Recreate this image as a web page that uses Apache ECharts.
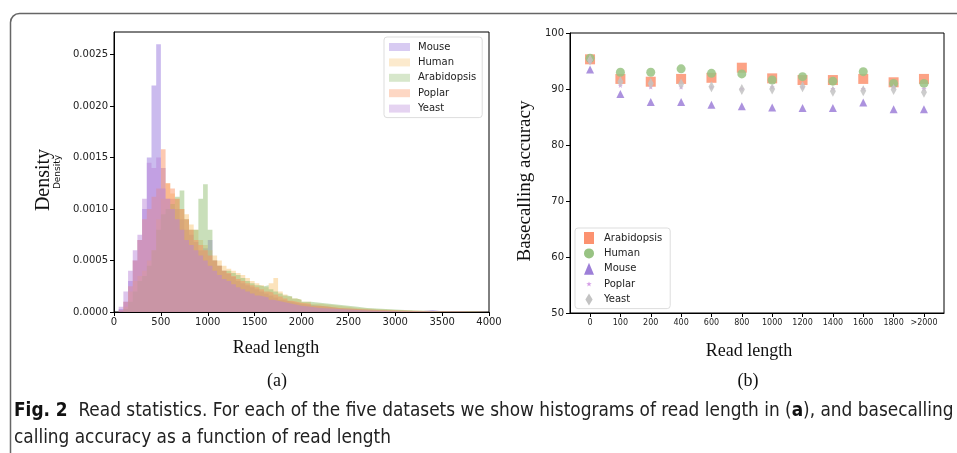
<!DOCTYPE html>
<html>
<head>
<meta charset="utf-8">
<script src="https://cdn.jsdelivr.net/npm/echarts@6/dist/echarts.min.js"></script>
<style>
  html, body { margin: 0; padding: 0; background: #fff; }
  #chart { width: 957px; height: 453px; }
</style>
</head>
<body>
<div id="chart"></div>
<script>
// histogram bins (start of each bin), last edge closes the step
const binStarts = [0, 50, 100, 150, 200, 250, 300, 350, 400, 450, 500, 550, 600, 650, 700, 750, 800, 850, 900, 950,
  1000, 1050, 1100, 1150, 1200, 1250, 1300, 1350, 1400, 1450, 1500, 1550, 1600, 1650, 1700, 1750, 1800, 1850, 1900, 1950,
  2000, 2100, 2200, 2300, 2400, 2500, 2600, 2700, 2800, 2900, 3000, 3100, 3200, 3300, 3400, 3500, 3600, 3700, 3800, 3900];
const lastEdge = 4000;

const mouseHist = [0, 0.00003, 0.0001, 0.0003, 0.0005, 0.0007, 0.0010, 0.0015, 0.0022, 0.0026, 0.0014, 0.0011, 0.0011, 0.0010, 0.0009, 0.0008, 0.00075, 0.00068, 0.0006, 0.00062,
  0.0007, 0.0005, 0.00045, 0.0004, 0.00037, 0.00034, 0.0003, 0.00028, 0.00026, 0.00024, 0.00022, 0.0002, 0.00018, 0.00016, 0.00014, 0.00012, 0.00011, 0.0001, 0.00009, 0.00008,
  0.00007, 0.00006, 0.00005, 0.00004, 0.000035, 0.00003, 0.000025, 0.00002, 0.00002, 0.000015, 0.000012, 0.00001, 0.00001, 0.00002, 0.000008, 0.000005, 0.000004, 0.000003, 0.000002, 0];
const humanHist = [0, 0, 0.00005, 0.0002, 0.0003, 0.00035, 0.0004, 0.0005, 0.0006, 0.0009, 0.0011, 0.00125, 0.00115, 0.0011, 0.001, 0.00095, 0.00085, 0.0008, 0.0007, 0.00065,
  0.0006, 0.00055, 0.0005, 0.00045, 0.00042, 0.0004, 0.00038, 0.00036, 0.00033, 0.0003, 0.00028, 0.00026, 0.00024, 0.00028, 0.00033, 0.0002, 0.00017, 0.00015, 0.00013, 0.00012,
  0.0001, 0.00008, 0.00007, 0.00006, 0.00005, 0.00004, 0.000035, 0.00003, 0.000025, 0.00002, 0.000018, 0.000015, 0.000012, 0.00001, 0.000008, 0.000006, 0.000005, 0.000004, 0.000003, 0];
const arabidopsisHist = [0, 0, 0.00003, 0.0001, 0.0002, 0.0003, 0.00035, 0.00045, 0.0006, 0.0008, 0.00095, 0.001, 0.00105, 0.00112, 0.00118, 0.0009, 0.0008, 0.0008, 0.0011, 0.00124,
  0.0008, 0.0005, 0.00045, 0.0004, 0.0004, 0.00038, 0.00036, 0.00033, 0.0003, 0.00028, 0.00026, 0.00025, 0.00026, 0.00022, 0.0002, 0.00018, 0.00016, 0.00015, 0.00013, 0.00012,
  0.0001, 0.00009, 0.00008, 0.00007, 0.00006, 0.00005, 0.00004, 0.000035, 0.00003, 0.000025, 0.00002, 0.000015, 0.000012, 0.00001, 0.000008, 0.000006, 0.000005, 0.000004, 0.000003, 0];
const poplarHist = [0, 0.00002, 0.0001, 0.00025, 0.0005, 0.0007, 0.0009, 0.001, 0.00112, 0.0012, 0.00158, 0.00125, 0.0012, 0.0011, 0.001, 0.0009, 0.0008, 0.0007, 0.00065, 0.0006,
  0.00055, 0.0005, 0.00045, 0.0004, 0.00038, 0.00035, 0.00032, 0.0003, 0.00028, 0.00026, 0.00024, 0.00022, 0.0002, 0.00019, 0.00017, 0.00015, 0.00013, 0.00011, 0.0001, 0.00009,
  0.00008, 0.00006, 0.00005, 0.00004, 0.000035, 0.00003, 0.000025, 0.00002, 0.000018, 0.000015, 0.000012, 0.00001, 0.000008, 0.000007, 0.000006, 0.000005, 0.000004, 0.000003, 0.000002, 0];
const yeastHist = [0, 0.00005, 0.0002, 0.0004, 0.0006, 0.00075, 0.0011, 0.00145, 0.0014, 0.0015, 0.0012, 0.0011, 0.001, 0.0009, 0.0008, 0.0007, 0.00065, 0.0006, 0.00055, 0.0005,
  0.00045, 0.0004, 0.00036, 0.00032, 0.0003, 0.00027, 0.00024, 0.00022, 0.0002, 0.00018, 0.00016, 0.00015, 0.00014, 0.00012, 0.00011, 0.0001, 0.00009, 0.00008, 0.00007, 0.00006,
  0.00005, 0.00004, 0.000035, 0.00003, 0.000025, 0.00002, 0.000015, 0.000012, 0.00001, 0.000008, 0.000006, 0.000005, 0.000004, 0.000004, 0.000003, 0.000002, 0.000002, 0.000001, 0.000001, 0];

const densityTicks = [0, 0.0005, 0.001, 0.0015, 0.002, 0.0025];

// accuracy by read length bucket
const lengthBuckets = ['0', '100', '200', '400', '600', '800', '1000', '1200', '1400', '1600', '1800', '>2000'];
const arabidopsisAcc = [95.3, 91.8, 91.3, 91.8, 92.0, 93.8, 91.9, 91.6, 91.6, 91.8, 91.2, 91.8];
const humanAcc = [95.5, 93.0, 93.0, 93.6, 92.8, 92.7, 91.6, 92.2, 91.4, 93.1, 91.0, 91.0];
const mouseAcc = [93.5, 89.1, 87.7, 87.7, 87.2, 86.9, 86.7, 86.6, 86.6, 87.6, 86.4, 86.4];
const poplarAcc = [94.9, 90.6, 90.3, 90.3, 90.3, 90.0, 90.3, 90.3, 90.0, 90.0, 90.3, 90.0];
const yeastAcc = [95.2, 91.3, 91.0, 90.9, 90.4, 89.9, 90.0, 90.4, 89.6, 89.7, 89.9, 89.4];

const histColors = { Mouse: '#9370db', Human: '#f8c574', Arabidopsis: '#8fbc6f', Poplar: '#fa8f5c', Yeast: '#b784d8' };
const histAlpha = 0.48;

function rgba(hex, a) {
  const n = parseInt(hex.slice(1), 16);
  return 'rgba(' + (n >> 16) + ',' + ((n >> 8) & 255) + ',' + (n & 255) + ',' + a + ')';
}

function stepData(vals) {
  const pts = binStarts.map((b, i) => [b, vals[i]]);
  pts.push([lastEdge, 0]);
  return pts;
}

function histSeries(name, vals) {
  return {
    name: name,
    type: 'line',
    step: 'end',
    xAxisIndex: 0,
    yAxisIndex: 0,
    symbol: 'none',
    silent: true,
    color: histColors[name],
    lineStyle: { width: 0 },
    areaStyle: { color: histColors[name], opacity: histAlpha },
    data: stepData(vals)
  };
}

function accSeries(name, vals, symbol, size, color) {
  return {
    name: name,
    type: 'scatter',
    xAxisIndex: 1,
    yAxisIndex: 1,
    symbol: symbol,
    symbolSize: size,
    itemStyle: { color: color, opacity: 0.85 },
    data: vals.map((v, i) => [i, v])
  };
}

const starPath = 'path://M0,0Z M100,100Z M50,22 L57,41 L77,41 L61,53 L67,73 L50,61 L33,73 L39,53 L23,41 L43,41 Z';
const thinDiamond = 'path://M50,0 L80,50 L50,100 L20,50 Z';

const accColors = { Arabidopsis: '#fc9270', Human: '#98c383', Mouse: '#9d7fd8', Poplar: '#d49ce6', Yeast: '#c3c3c3' };

const sans = '"DejaVu Sans", sans-serif';
const serif = '"Liberation Serif", "DejaVu Serif", serif';
const captionFont = '"Liberation Sans Narrow", "DejaVu Sans Condensed", sans-serif';

const axisLineStyle = { onZero: false, lineStyle: { color: '#000' } };

const chart = echarts.init(document.getElementById('chart'), null, { renderer: 'canvas' });

chart.setOption({
  animation: false,
  backgroundColor: '#fff',
  textStyle: { fontFamily: sans },
  grid: [
    { left: 114, top: 32, width: 375, height: 280, show: true, borderColor: '#000', borderWidth: 1, backgroundColor: 'transparent' },
    { left: 570, top: 33, width: 374, height: 280, show: true, borderColor: '#000', borderWidth: 1, backgroundColor: 'transparent' }
  ],
  xAxis: [
    {
      type: 'value', gridIndex: 0, min: 0, max: 4000, interval: 500,
      axisLine: axisLineStyle,
      axisTick: { length: 4, lineStyle: { color: '#000' } },
      axisLabel: { fontSize: 10, color: '#222', margin: 5, fontFamily: sans, formatter: v => String(v) },
      splitLine: { show: false }
    },
    {
      type: 'value', gridIndex: 1, min: -0.66, max: 11.66,
      axisLine: axisLineStyle,
      axisTick: { length: 4, lineStyle: { color: '#000' }, customValues: lengthBuckets.map((c, i) => i) },
      axisLabel: {
        fontSize: 8, color: '#222', margin: 6, fontFamily: sans,
        customValues: lengthBuckets.map((c, i) => i),
        formatter: v => lengthBuckets[Math.round(v)]
      },
      splitLine: { show: false }
    }
  ],
  yAxis: [
    {
      type: 'value', gridIndex: 0, min: 0, max: 0.00272,
      name: 'Density', nameLocation: 'middle', nameGap: 52,
      nameTextStyle: { fontSize: 9, color: '#111', fontFamily: sans },
      axisLine: axisLineStyle,
      axisTick: { length: 4, lineStyle: { color: '#000' }, customValues: densityTicks },
      axisLabel: { fontSize: 10, color: '#222', margin: 6, fontFamily: sans, customValues: densityTicks, formatter: v => v.toFixed(4) },
      splitLine: { show: false }
    },
    {
      type: 'value', gridIndex: 1, min: 50, max: 100, interval: 10,
      axisLine: axisLineStyle,
      axisTick: { length: 4, lineStyle: { color: '#000' } },
      axisLabel: { fontSize: 10, color: '#222', margin: 6, fontFamily: sans },
      splitLine: { show: false }
    }
  ],
  legend: [
    {
      orient: 'vertical', left: 384, top: 37,
      padding: [4, 6, 3, 5], itemGap: 3.4, itemWidth: 21, itemHeight: 8,
      backgroundColor: '#fff', borderColor: '#ddd', borderWidth: 1, borderRadius: 3,
      textStyle: { fontSize: 10, color: '#222', lineHeight: 12, fontFamily: sans, padding: [0, 0, 0, 3] },
      selectedMode: false,
      data: ['Mouse', 'Human', 'Arabidopsis', 'Poplar', 'Yeast'].map(n => ({
        name: n, icon: 'rect', itemStyle: { color: rgba(histColors[n], 0.36), borderWidth: 0 }
      }))
    },
    {
      orient: 'vertical', left: 575, top: 228,
      padding: [4, 8, 3, 9], itemGap: 3.4, itemWidth: 10, itemHeight: 12,
      backgroundColor: '#fff', borderColor: '#ddd', borderWidth: 1, borderRadius: 3,
      textStyle: { fontSize: 10, color: '#222', lineHeight: 12, fontFamily: sans, padding: [0, 0, 0, 5] },
      selectedMode: false,
      data: [
        { name: 'Arabidopsis', icon: 'rect', itemStyle: { color: accColors.Arabidopsis, borderWidth: 0 } },
        { name: 'Human', icon: 'circle', itemStyle: { color: accColors.Human, borderWidth: 0 } },
        { name: 'Mouse', icon: 'triangle', itemStyle: { color: accColors.Mouse, borderWidth: 0 } },
        { name: 'Poplar', icon: starPath, itemStyle: { color: accColors.Poplar, borderWidth: 0 } },
        { name: 'Yeast', icon: thinDiamond, itemStyle: { color: accColors.Yeast, borderWidth: 0 } }
      ]
    }
  ],
  series: [
    histSeries('Mouse', mouseHist),
    histSeries('Human', humanHist),
    histSeries('Arabidopsis', arabidopsisHist),
    histSeries('Poplar', poplarHist),
    histSeries('Yeast', yeastHist),
    accSeries('Arabidopsis', arabidopsisAcc, 'rect', 10, accColors.Arabidopsis),
    accSeries('Human', humanAcc, 'circle', 9, accColors.Human),
    accSeries('Mouse', mouseAcc, 'triangle', 8, accColors.Mouse),
    accSeries('Poplar', poplarAcc, starPath, 10, accColors.Poplar),
    accSeries('Yeast', yeastAcc, 'diamond', [6, 11], accColors.Yeast)
  ],
  graphic: [
    {
      type: 'rect', silent: true, z: 100,
      shape: { x: 10.5, y: 13.5, width: 1200, height: 900, r: 9 },
      style: { fill: 'none', stroke: '#666', lineWidth: 1.5 }
    },
    {
      type: 'text', x: 44, y: 180, rotation: Math.PI / 2,
      style: { text: 'Density', fontSize: 20, fontFamily: serif, fill: '#111', align: 'center', verticalAlign: 'middle' }
    },
    {
      type: 'text', x: 525, y: 181, rotation: Math.PI / 2,
      style: { text: 'Basecalling accuracy', fontSize: 19, fontFamily: serif, fill: '#111', align: 'center', verticalAlign: 'middle' }
    },
    {
      type: 'text', x: 276, y: 348,
      style: { text: 'Read length', fontSize: 18, fontFamily: serif, fill: '#111', align: 'center', verticalAlign: 'middle' }
    },
    {
      type: 'text', x: 749, y: 351,
      style: { text: 'Read length', fontSize: 18, fontFamily: serif, fill: '#111', align: 'center', verticalAlign: 'middle' }
    },
    {
      type: 'text', x: 277, y: 381,
      style: { text: '(a)', fontSize: 18, fontFamily: serif, fill: '#111', align: 'center', verticalAlign: 'middle' }
    },
    {
      type: 'text', x: 748, y: 381,
      style: { text: '(b)', fontSize: 18, fontFamily: serif, fill: '#111', align: 'center', verticalAlign: 'middle' }
    },
    {
      type: 'text', x: 14, y: 411,
      style: {
        text: '{b|Fig. 2}  Read statistics. For each of the five datasets we show histograms of read length in ({b|a}), and basecalling',
        fontSize: 18.85, fontFamily: captionFont, fill: '#222',
        verticalAlign: 'middle',
        rich: { b: { fontWeight: 'bold', fontSize: 18.85, fontFamily: captionFont, fill: '#111' } }
      }
    },
    {
      type: 'text', x: 14, y: 438,
      style: {
        text: 'calling accuracy as a function of read length',
        fontSize: 18.85, fontFamily: captionFont, fill: '#222',
        verticalAlign: 'middle'
      }
    }
  ]
});
</script>
</body>
</html>
